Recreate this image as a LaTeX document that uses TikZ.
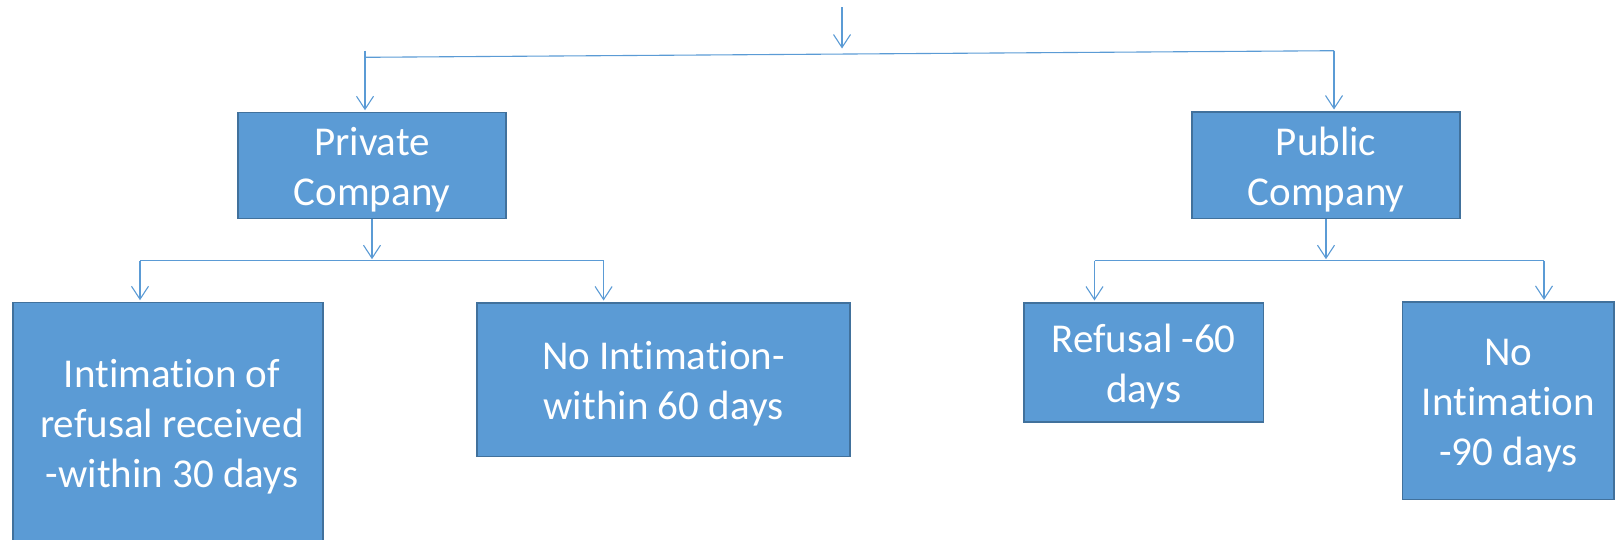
\documentclass[tikz,border=0pt]{standalone}
\usepackage{fontspec}
\setmainfont{Carlito}[RawFeature=-liga, RawFeature=-clig, RawFeature=-dlig]
\usetikzlibrary{arrows.meta}
\definecolor{boxfill}{HTML}{5B9BD5}
\definecolor{boxline}{HTML}{41719C}
\definecolor{linkcol}{HTML}{5B9BD5}
% "Intimation" set without the t-i ligature
\newcommand\intimword{Int\kern0pt imat\kern0pt ion}
\begin{document}
\begin{tikzpicture}[x=1pt,y=-1pt,
  box/.style={draw=boxline, line width=1.5pt, fill=boxfill, inner sep=0pt},
  lbl/.style={text=white, align=center, font=\fontsize{41}{50}\selectfont,
    inner sep=0pt, yshift=-4.5pt},
  conn/.style={draw=linkcol, line width=1.1pt,
    -{Straight Barb[length=13pt,width=17pt,line width=1.1pt]}, shorten >=1.5pt},
  plain/.style={draw=linkcol, line width=1.1pt}]
\useasboundingbox (0,0) rectangle (1615,539);

% company boxes
\node[box, minimum width=268pt, minimum height=106pt] (priv) at (372,165.5) {};
\node[lbl] (privtxt) at (priv.center) {Private\\Company};
\node[box, minimum width=268pt, minimum height=106.5pt] (pub) at (1326,165) {};
\node[lbl] (pubtxt) at (pub.center) {Public\\Company};

% outcome boxes
\node[box, minimum width=310pt, minimum height=240pt] (intim) at (168,422.5) {};
\node[lbl] (intimtxt) at ([xshift=4pt]intim.center) {\intimword{} of\\refusal received\\-within 30 days};
\node[box, minimum width=373pt, minimum height=153.5pt] (noint) at (663.5,379.5) {};
\node[lbl] (nointtxt) at (noint.center) {No \intimword-\\within 60 days};
\node[box, minimum width=239.5pt, minimum height=119.3pt] (refusal) at (1143.75,362.4) {};
\node[lbl] (refusaltxt) at (refusal.center) {Refusal -60\\days};
\node[box, minimum width=211.4pt, minimum height=197.3pt] (noint90) at (1508.4,400.8) {};
\node[lbl] (noint90txt) at (noint90.center) {No\\\intimword\\-90 days};

% top split
\coordinate (src) at (842,7);
\coordinate (srcend) at (842,50);
\coordinate (spl) at (365,57.3);
\coordinate (spr) at (1334,50.7);
\coordinate (splt) at (365,50.7);
\draw[conn] (src) -- (srcend);
\draw[plain] (spl) -- (spr);
\draw[conn] (splt) -- (splt |- priv.north);
\draw[conn] (spr) -- (spr |- pub.north);

% private company branches
\coordinate (pj) at (372,260.7);
\coordinate (pl) at (140,260.7);
\coordinate (pr) at (603.6,260.7);
\draw[conn] (priv.south) -- (pj);
\draw[plain] (pl) -- (pr);
\draw[conn] (pl) -- (pl |- intim.north);
\draw[conn] (pr) -- (pr |- noint.north);

% public company branches
\coordinate (qj) at (1326,260.7);
\coordinate (ql) at (1094.5,260.7);
\coordinate (qr) at (1544,260.7);
\draw[conn] (pub.south) -- (qj);
\draw[plain] (ql) -- (qr);
\draw[conn] (ql) -- (ql |- refusal.north);
\draw[conn] (qr) -- (qr |- noint90.north);
\end{tikzpicture}
\end{document}
